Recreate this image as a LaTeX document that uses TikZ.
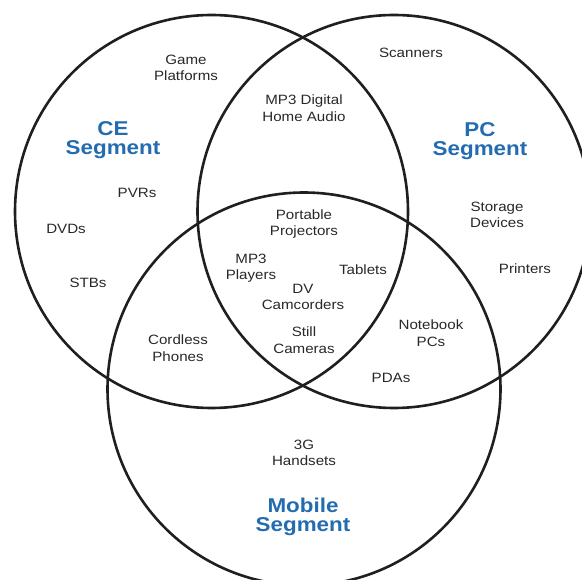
\documentclass[tikz,border=0pt]{standalone}
\usepackage{fontspec}
\setmainfont{Liberation Sans}[FakeStretch=1.12]
\usepackage{tikz}
\usetikzlibrary{positioning}
\definecolor{segblue}{RGB}{35,108,175}
\definecolor{itemgray}{RGB}{40,40,40}
\tikzstyle{ring}=[line width=2.6pt,draw=black!88]
\tikzstyle{item}=[align=center,inner sep=0pt,text=itemgray,
                font=\fontsize{13.5}{16.5}\selectfont]
\tikzstyle{segment}=[align=center,inner sep=0pt,text=segblue,
                font=\bfseries\fontsize{20}{19.5}\selectfont]

\begin{document}
\begin{tikzpicture}[x=1pt,y=-1pt]
\useasboundingbox (0,0) rectangle (582,580);
\clip (0,0) rectangle (582,580);
% the three segments
\draw[ring] (211.5,211.5) circle[radius=196.5pt];
\draw[ring] (394,211.5) circle[radius=196.5pt];
\draw[ring] (304,389) circle[radius=196.5pt];
% segment names
\node[segment] (ce) at (113,140) {CE\\Segment};
\node[segment] (pc) at (480,141) {PC\\Segment};
\node[segment] (mobile) at (303,517) {Mobile\\Segment};
% CE only
\node[item] (game) at (186,68) {Game\\Platforms};
\node[item] (pvr) at (137,193) {PVRs};
\node[item] (dvd) at (66,229) {DVDs};
\node[item] (stb) at (88,283) {STBs};
% PC only
\node[item] (scan) at (411,53) {Scanners};
\node[item] (storage) at (497,215) {Storage\\Devices};
\node[item] (printer) at (525,269) {Printers};
% CE and PC
\node[item] (mp3audio) at (304,108) {MP3 Digital\\Home Audio};
% all three
\node[item] (proj) at (304,224) {Portable\\Projectors};
\node[item] (mp3) at (251,268) {MP3\\Players};
\node[item] (tablet) at (363,270) {Tablets};
\node[item] (dv) at (303,297) {DV\\Camcorders};
\node[item] (still) at (304,340) {Still\\Cameras};
% CE and mobile
\node[item] (cordless) at (178,348) {Cordless\\Phones};
% PC and mobile
\node[item] (notebook) at (431,333) {Notebook\\PCs};
\node[item] (pda) at (391,378) {PDAs};
% mobile only
\node[item] (handset) at (304,453) {3G\\Handsets};
\end{tikzpicture}
\end{document}
